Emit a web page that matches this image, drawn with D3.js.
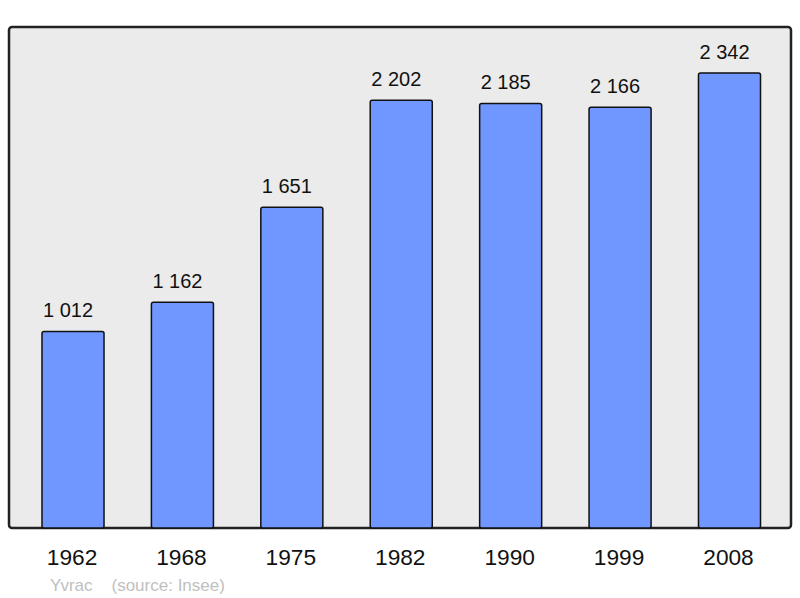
<!DOCTYPE html>
<html><head><meta charset="utf-8">
<script src="https://cdn.jsdelivr.net/npm/d3@7"></script>
<style>body{margin:0;background:#fff}svg{display:block}</style>
</head><body>
<svg id="c" width="800" height="598"></svg>
<script>
const years = ["1962","1968","1975","1982","1990","1999","2008"];
const population = [1012,1162,1651,2202,2185,2166,2342];
const valueLabels = ["1 012","1 162","1 651","2 202","2 185","2 166","2 342"];
const townName = "Yvrac";
const sourceText = "(source: Insee)";

const svg = d3.select("#c");
const font = "'Liberation Sans', Arial, sans-serif";

svg.append("rect").attr("x",9).attr("y",27).attr("width",782).attr("height",501)
  .attr("rx",3).attr("fill","#ebebeb").attr("stroke","#222").attr("stroke-width",2.5);

const x = d3.scaleBand().domain(years).range([18.3,784.2]).paddingInner(0.433).paddingOuter(0.2165);
const y = d3.scaleLinear().domain([0,2342]).range([528,73]);

svg.selectAll("rect.bar").data(population).enter().append("rect").attr("class","bar")
  .attr("x",(d,i)=>x(years[i])).attr("y",d=>y(d))
  .attr("width",x.bandwidth()).attr("height",d=>y(0)-y(d))
  .attr("rx",2).attr("fill","#7096ff").attr("stroke","#111").attr("stroke-width",1.5);

svg.selectAll("text.val").data(population).enter().append("text").attr("class","val")
  .attr("x",(d,i)=>x(years[i])+x.bandwidth()/2-5).attr("y",d=>y(d)-14.5)
  .attr("text-anchor","middle").attr("font-family",font).attr("font-size",20).attr("fill","#111")
  .text((d,i)=>valueLabels[i]);

const xAxis = d3.axisBottom(x).tickSize(0).tickPadding(0);
const ax = svg.append("g").attr("transform","translate(-1,565)").call(xAxis);
ax.select(".domain").remove();
ax.selectAll("text").attr("dy",0).attr("y",0).attr("font-family",font).attr("font-size",22.7).attr("fill","#111");

svg.append("text").attr("x",50).attr("y",590.5).attr("font-family",font).attr("font-size",17)
  .attr("fill","#c0c0c0").text(townName);
svg.append("text").attr("x",111.5).attr("y",590.5).attr("font-family",font).attr("font-size",17)
  .attr("fill","#c0c0c0").text(sourceText);
</script>
</body></html>
